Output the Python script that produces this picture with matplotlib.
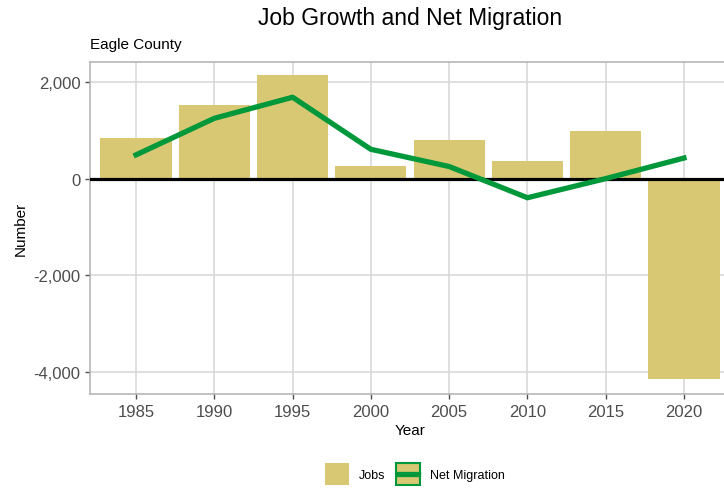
import numpy as np
import matplotlib
import matplotlib.pyplot as plt
from matplotlib.patches import Patch, Rectangle
from matplotlib.lines import Line2D
from matplotlib.ticker import FuncFormatter

matplotlib.rc("font", family=["Liberation Sans", "DejaVu Sans"])

years = [1985, 1990, 1995, 2000, 2005, 2010, 2015, 2020]
jobs = [830, 1515, 2130, 260, 795, 370, 985, -4130]
net_migration = [490, 1245, 1680, 605, 250, -395, 0, 425]

gold = "#D8C773"
green = "#00983A"
grid = "#D6D6D6"


class MigrationKey:
    # gold box with green border and a green line through the middle
    def legend_artist(self, legend, orig_handle, fontsize, handlebox):
        x0, y0 = -handlebox.xdescent, -handlebox.ydescent
        w, h = handlebox.width, handlebox.height
        box = Rectangle((x0, y0), w, h, facecolor=gold, edgecolor=green, linewidth=1.5,
                        transform=handlebox.get_transform())
        line = Line2D([x0 + 1.5, x0 + w - 1.5], [y0 + h / 2, y0 + h / 2], color=green, linewidth=3.8,
                      transform=handlebox.get_transform())
        handlebox.add_artist(box)
        handlebox.add_artist(line)
        return box


fig = plt.figure(figsize=(7.24, 4.89), dpi=100)
ax = fig.add_axes([90 / 724, 1 - 395 / 489, (730 - 90) / 724, (395 - 62.5) / 489])

ax.set_axisbelow(True)
ax.grid(True, color=grid, linewidth=1.1)
ax.bar(years, jobs, width=4.55, color=gold, zorder=2)
ax.axhline(0, color="black", linewidth=2.3, zorder=3)
ax.plot(years, net_migration, color=green, linewidth=3.8, zorder=4)

ax.set_xlim(1982.06, 2022.94)
ax.set_ylim(-4447, 2418)
ax.set_xticks(years)
ax.set_yticks([-4000, -2000, 0, 2000])
ax.yaxis.set_major_formatter(FuncFormatter(lambda v, p: f"{int(v):,}"))
ax.tick_params(colors="#4D4D4D", labelsize=12, length=3.5, width=1, labelcolor="#4D4D4D")

for side in ["top", "left", "bottom"]:
    ax.spines[side].set_color("#B0B0B0")
    ax.spines[side].set_linewidth(1.1)
ax.spines["right"].set_visible(False)

ax.set_xlabel("Year", fontsize=11, labelpad=3)
ax.set_ylabel("Number", fontsize=11, labelpad=4)

fig.text(410 / 724, 1 - 18 / 489, "Job Growth and Net Migration", ha="center", va="center", fontsize=16.5)
fig.text(90 / 724, 1 - 45 / 489, "Eagle County", ha="left", va="center", fontsize=11)

h_jobs = Patch(facecolor=gold, edgecolor="none")
h_mig = Patch(facecolor=gold, edgecolor=green)
fig.legend([h_jobs, h_mig], ["Jobs", "Net Migration"], loc="center",
           bbox_to_anchor=(415 / 724, 1 - 475 / 489), ncol=2, frameon=False,
           fontsize=9, handlelength=1.9, handleheight=2.4, columnspacing=0.9, handletextpad=0.8,
           handler_map={h_mig: MigrationKey()})

fig.savefig("out.png", dpi=100)
